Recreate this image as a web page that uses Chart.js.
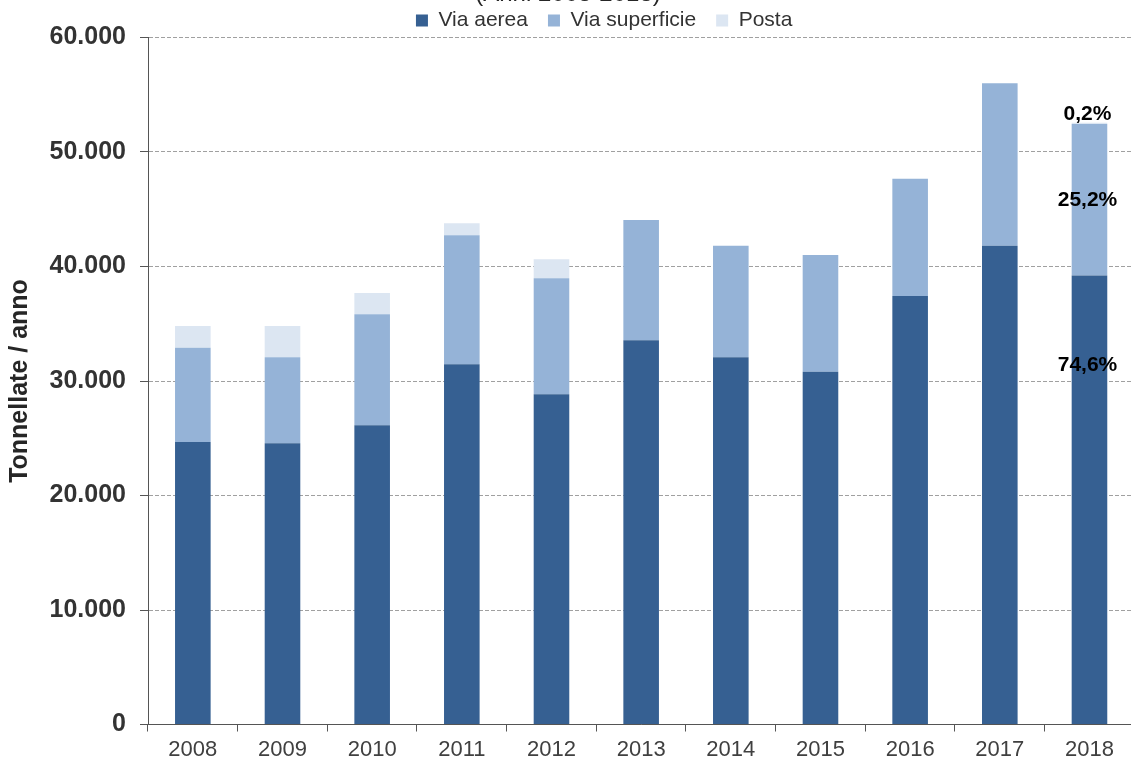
<!DOCTYPE html>
<html lang="it">
<head>
<meta charset="utf-8">
<title>Tonnellate / anno 2008-2018</title>
<script src="https://cdn.jsdelivr.net/npm/chart.js@4/dist/chart.umd.min.js"></script>
<style>
  html, body { margin: 0; padding: 0; background: #ffffff; overflow: hidden; }
  #wrap { position: relative; width: 1131px; height: 762px; overflow: hidden; }
  canvas { position: absolute; left: 0; top: 0; }
</style>
</head>
<body>
<div id="wrap"><canvas id="chart" width="1200" height="762"></canvas></div>
<script>
// Anni
const years = ['2008', '2009', '2010', '2011', '2012', '2013', '2014', '2015', '2016', '2017', '2018'];

// Tonnellate per modalità di trasporto
const viaAerea      = [24670, 24560, 26130, 31460, 28840, 33550, 32070, 30810, 37420, 41820, 39210];
const viaSuperficie = [ 8240,  7510,  9700, 11260, 10130, 10510,  9750, 10190, 10250, 14180, 13245];
const posta         = [ 1890,  2730,  1860,  1050,  1660,     0,     0,     0,     0,     0,   105];

// Asse Y
const yTickValues = [0, 10000, 20000, 30000, 40000, 50000, 60000];
const yTickLabels = ['0', '10.000', '20.000', '30.000', '40.000', '50.000', '60.000'];

const seriesNames  = ['Via aerea', 'Via superficie', 'Posta'];
const seriesColors = ['#366092', '#95b3d7', '#dce6f2'];

const FONT = "'Liberation Sans', Arial, sans-serif";

// Quote percentuali dell'ultimo anno, scritte sulla barra
const shareLabels = {
  id: 'shareLabels',
  afterDatasetsDraw(chart) {
    const ctx = chart.ctx;
    const last = years.length - 1;
    const total = viaAerea[last] + viaSuperficie[last] + posta[last];
    const fmt = v => (v / total * 100).toFixed(1).replace('.', ',') + '%';
    const elA = chart.getDatasetMeta(0).data[last];
    const elS = chart.getDatasetMeta(1).data[last];
    const elP = chart.getDatasetMeta(2).data[last];
    ctx.save();
    ctx.font = 'bold 21px ' + FONT;
    ctx.fillStyle = '#000000';
    ctx.textAlign = 'center';
    ctx.textBaseline = 'middle';
    ctx.fillText(fmt(viaAerea[last]), elA.x - 2, elA.y + (elA.base - elA.y) * 0.2);
    ctx.fillText(fmt(viaSuperficie[last]), elS.x - 2, (elS.y + elS.base) / 2);
    ctx.textBaseline = 'alphabetic';
    ctx.fillText(fmt(posta[last]), elP.x - 2, elP.y - 3);
    ctx.restore();
  }
};

// Titolo in testa al grafico
const headTitle = {
  id: 'headTitle',
  afterDraw(chart) {
    const ctx = chart.ctx;
    ctx.save();
    ctx.font = '24px ' + FONT;
    ctx.fillStyle = '#262626';
    ctx.textAlign = 'center';
    ctx.textBaseline = 'alphabetic';
    ctx.fillText('(Anni 2008-2018)', 568, 1);
    ctx.restore();
  }
};

// Sposta la legenda verso destra rispetto al centro della tela
const legendShift = {
  id: 'legendShift',
  afterLayout(chart) {
    const lg = chart.legend;
    if (lg) { lg.left += 37; lg.right += 37; }
  }
};

new Chart(document.getElementById('chart'), {
  type: 'bar',
  data: {
    labels: years,
    datasets: [
      { label: seriesNames[0], data: viaAerea,      backgroundColor: seriesColors[0] },
      { label: seriesNames[1], data: viaSuperficie, backgroundColor: seriesColors[1] },
      { label: seriesNames[2], data: posta,         backgroundColor: seriesColors[2] }
    ]
  },
  options: {
    responsive: false,
    animation: false,
    devicePixelRatio: 1,
    barPercentage: 0.397,
    categoryPercentage: 1,
    layout: { padding: { top: -10, left: 0, right: 65.7, bottom: 0 } },
    plugins: {
      title: { display: false },
      tooltip: { enabled: false },
      legend: {
        display: true,
        position: 'top',
        maxHeight: 47.5,
        labels: {
          boxWidth: 12,
          boxHeight: 12,
          padding: 20,
          color: '#333333',
          font: { family: FONT, size: 21 }
        }
      }
    },
    scales: {
      x: {
        stacked: true,
        afterFit(scale) { scale.height = 37.5; },
        grid: {
          display: true,
          drawOnChartArea: false,
          drawTicks: true,
          tickLength: 7,
          tickColor: '#555555',
          color: '#555555',
          offset: true
        },
        border: { display: true, color: '#555555', width: 1 },
        ticks: {
          color: '#404040',
          padding: 5,
          font: { family: FONT, size: 22 },
          maxRotation: 0
        }
      },
      y: {
        stacked: true,
        min: 0,
        max: 60000,
        afterFit(scale) { scale.width = 148; },
        afterBuildTicks(scale) { scale.ticks = yTickValues.map(v => ({ value: v })); },
        grid: {
          display: true,
          color: '#a0a0a0',
          lineWidth: 1,
          drawTicks: true,
          tickLength: 8,
          tickColor: '#555555',
          tickBorderDash: []
        },
        border: { display: true, color: '#555555', width: 1, dash: [4, 2] },
        ticks: {
          color: '#333333',
          padding: 14,
          font: { family: FONT, size: 25, weight: 'bold' },
          callback: (value) => yTickLabels[yTickValues.indexOf(value)]
        },
        title: {
          display: true,
          text: 'Tonnellate / anno',
          color: '#262626',
          font: { family: FONT, size: 25, weight: 'bold' },
          padding: { top: 5, bottom: 0 }
        }
      }
    }
  },
  plugins: [shareLabels, headTitle, legendShift]
});
</script>
</body>
</html>
